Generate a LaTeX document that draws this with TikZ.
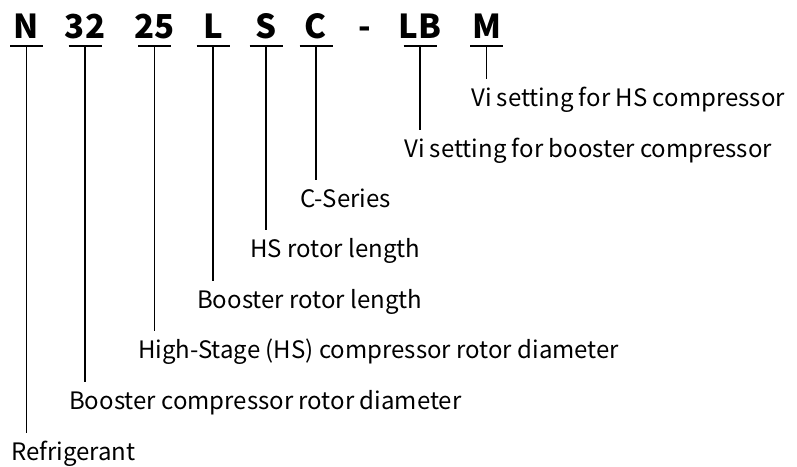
\documentclass[tikz,border=0pt]{standalone}
\usepackage{fontspec}
\setmainfont{Noto Sans CJK SC}
\begin{document}
\begin{tikzpicture}[x=1pt,y=-1pt,
  code/.style={font=\fontsize{33}{33}\selectfont\bfseries, anchor=base, inner sep=0pt},
  lbl/.style={font=\fontsize{24}{24}\selectfont, anchor=base west, inner sep=0pt, text height=17pt, outer ysep=10pt},
  ln/.style={line width=1.4pt, black}]
\useasboundingbox (0,0) rectangle (797,466);
% codes
\node[code] (cN)  at (26.5,38) {N};
\node[code] (c32) at (85,38) {32};
\node[code] (c25) at (154.5,38) {25};
\node[code] (cL)  at (213,38) {L};
\node[code] (cS)  at (266,38) {S};
\node[code] (cC)  at (316,38) {C};
\node[code] (cD)  at (365,38) {-};
\node[code] (cLB) at (420,38) {LB};
\node[code] (cM)  at (486.5,38) {M};
% underline coordinates
\coordinate (uN)  at (26.5,46);
\coordinate (u32) at (85,46);
\coordinate (u25) at (154.5,46);
\coordinate (uL)  at (213,46);
\coordinate (uS)  at (266,46);
\coordinate (uC)  at (316,46);
\coordinate (uLB) at (420,46);
\coordinate (uM)  at (486.5,46);
% labels
\node[lbl] (lM)  at (471,106) {Vi setting for HS compressor};
\node[lbl] (lLB) at (404,157) {Vi setting for booster compressor};
\node[lbl] (lC)  at (300,207) {C-Series};
\node[lbl] (lS)  at (250,257) {HS rotor length};
\node[lbl] (lL)  at (197,308) {Booster rotor length};
\node[lbl] (l25) at (138,358) {High-Stage (HS) compressor rotor diameter};
\node[lbl] (l32) at (69,409) {Booster compressor rotor diameter};
\node[lbl] (lN)  at (11,460) {Refrigerant};
% underlines and stems
\foreach \k in {N,32,25,L,S,C,LB,M}{
  \draw[ln] ([xshift=-16.5pt]u\k) -- ([xshift=16.5pt]u\k);
  \draw[ln] (u\k) -- (u\k |- l\k.north);
}
\end{tikzpicture}
\end{document}
